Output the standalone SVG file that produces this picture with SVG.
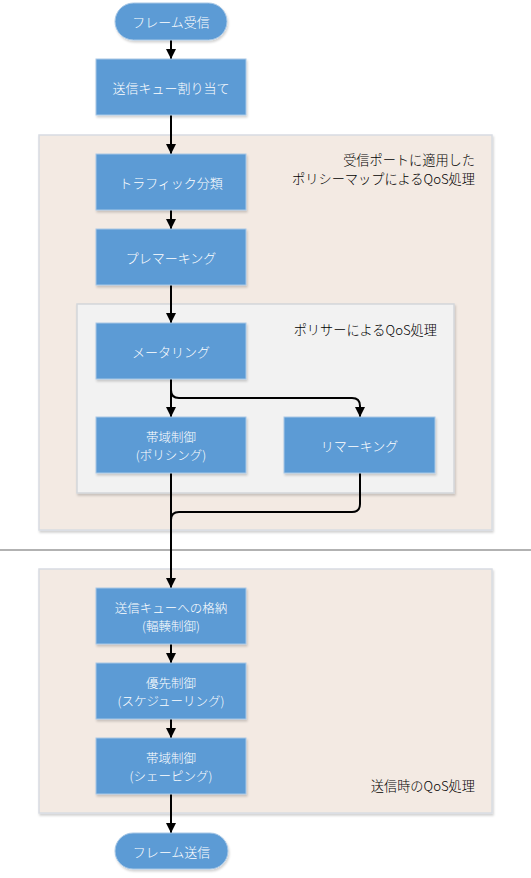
<svg xmlns="http://www.w3.org/2000/svg" width="531" height="878" viewBox="0 0 531 878">
<style>
.grp{fill:#F3EAE3;stroke:#D8DCE2;stroke-width:1.5}
.inner{fill:#F2F2F2;stroke:#D3D6DA;stroke-width:1.5}
.box{fill:#5B9BD5;stroke:#A9C8E6;stroke-width:1}
.t{font-family:"Meiryo","Noto Sans CJK JP","Noto Sans",sans-serif;font-size:13px;font-weight:300;fill:#FFFFFF;text-anchor:middle;dominant-baseline:central}
.t2{font-size:12.5px}
.lbl{font-family:"Meiryo","Noto Sans CJK JP","Noto Sans",sans-serif;font-size:13.2px;font-weight:300;fill:#000000;text-anchor:end}
.c{fill:none;stroke:#000000;stroke-width:2}
</style>
<defs>
<filter id="sh" x="-10%" y="-10%" width="120%" height="130%">
<feDropShadow dx="1" dy="2" stdDeviation="1.2" flood-color="#000" flood-opacity="0.18"/>
</filter>
<marker id="ah" viewBox="0 0 10 10" refX="10" refY="5" markerWidth="10" markerHeight="10" markerUnits="userSpaceOnUse" orient="auto">
<path d="M0,0 L10,5 L0,10 z" fill="#000000"/>
</marker>
</defs>
<rect width="531" height="878" fill="#FFFFFF"/>
<g id="ingress-group">
<rect class="grp" x="39" y="135" width="453" height="395" filter="url(#sh)"/>
<text class="lbl" x="475" y="165">受信ポートに適用した</text>
<text class="lbl" x="475" y="184">ポリシーマップによるQoS処理</text>
</g>
<g id="policer-group">
<rect class="inner" x="77" y="304" width="377" height="189" filter="url(#sh)"/>
<text class="lbl" x="437" y="335">ポリサーによるQoS処理</text>
</g>
<line x1="0" y1="550" x2="531" y2="550" stroke="#999999" stroke-width="1.5"/>
<g id="egress-group">
<rect class="grp" x="39" y="569" width="453" height="244" filter="url(#sh)"/>
<text class="lbl" x="475" y="791">送信時のQoS処理</text>
</g>
<g id="connectors">
<line class="c" x1="171" y1="40" x2="171" y2="59" marker-end="url(#ah)"/>
<line class="c" x1="171" y1="115" x2="171" y2="154" marker-end="url(#ah)"/>
<line class="c" x1="171" y1="210" x2="171" y2="229" marker-end="url(#ah)"/>
<line class="c" x1="171" y1="285" x2="171" y2="323" marker-end="url(#ah)"/>
<line class="c" x1="171" y1="379" x2="171" y2="417" marker-end="url(#ah)"/>
<path class="c" d="M171,379 L171,390 Q171,398 179,398 L352,398 Q360,398 360,406 L360,417" marker-end="url(#ah)"/>
<line class="c" x1="171" y1="473" x2="171" y2="588" marker-end="url(#ah)"/>
<path class="c" d="M360,473 L360,504 Q360,512 352,512 L179,512 Q171,512 171,520"/>
<line class="c" x1="171" y1="644" x2="171" y2="663" marker-end="url(#ah)"/>
<line class="c" x1="171" y1="719" x2="171" y2="738" marker-end="url(#ah)"/>
<line class="c" x1="171" y1="794" x2="171" y2="833" marker-end="url(#ah)"/>
</g>
<g id="frame-rx">
<rect class="box" x="115" y="3" width="112" height="37" rx="18.5" filter="url(#sh)"/>
<text class="t" x="171" y="21.5">フレーム受信</text>
</g>
<g id="queue-assign">
<rect class="box" x="96" y="59" width="150" height="56" filter="url(#sh)"/>
<text class="t" x="171" y="87">送信キュー割り当て</text>
</g>
<g id="classify">
<rect class="box" x="96" y="154" width="150" height="56" filter="url(#sh)"/>
<text class="t" x="171" y="182">トラフィック分類</text>
</g>
<g id="premarking">
<rect class="box" x="96" y="229" width="150" height="56" filter="url(#sh)"/>
<text class="t" x="171" y="257">プレマーキング</text>
</g>
<g id="metering">
<rect class="box" x="96" y="323" width="150" height="56" filter="url(#sh)"/>
<text class="t" x="171" y="351">メータリング</text>
</g>
<g id="policing">
<rect class="box" x="96" y="417" width="150" height="56" filter="url(#sh)"/>
<text class="t t2" x="171" y="436">帯域制御</text>
<text class="t t2" x="171" y="454.2">(ポリシング)</text>
</g>
<g id="remarking">
<rect class="box" x="284" y="417" width="151" height="56" filter="url(#sh)"/>
<text class="t" x="359.5" y="445">リマーキング</text>
</g>
<g id="enqueue">
<rect class="box" x="96" y="588" width="150" height="56" filter="url(#sh)"/>
<text class="t t2" x="171" y="607">送信キューへの格納</text>
<text class="t t2" x="171" y="625.2">(輻輳制御)</text>
</g>
<g id="scheduling">
<rect class="box" x="96" y="663" width="150" height="56" filter="url(#sh)"/>
<text class="t t2" x="171" y="682">優先制御</text>
<text class="t t2" x="171" y="700.2">(スケジューリング)</text>
</g>
<g id="shaping">
<rect class="box" x="96" y="738" width="150" height="56" filter="url(#sh)"/>
<text class="t t2" x="171" y="757">帯域制御</text>
<text class="t t2" x="171" y="775.2">(シェーピング)</text>
</g>
<g id="frame-tx">
<rect class="box" x="115" y="833" width="113" height="36" rx="18" filter="url(#sh)"/>
<text class="t" x="171.5" y="851">フレーム送信</text>
</g>
</svg>
